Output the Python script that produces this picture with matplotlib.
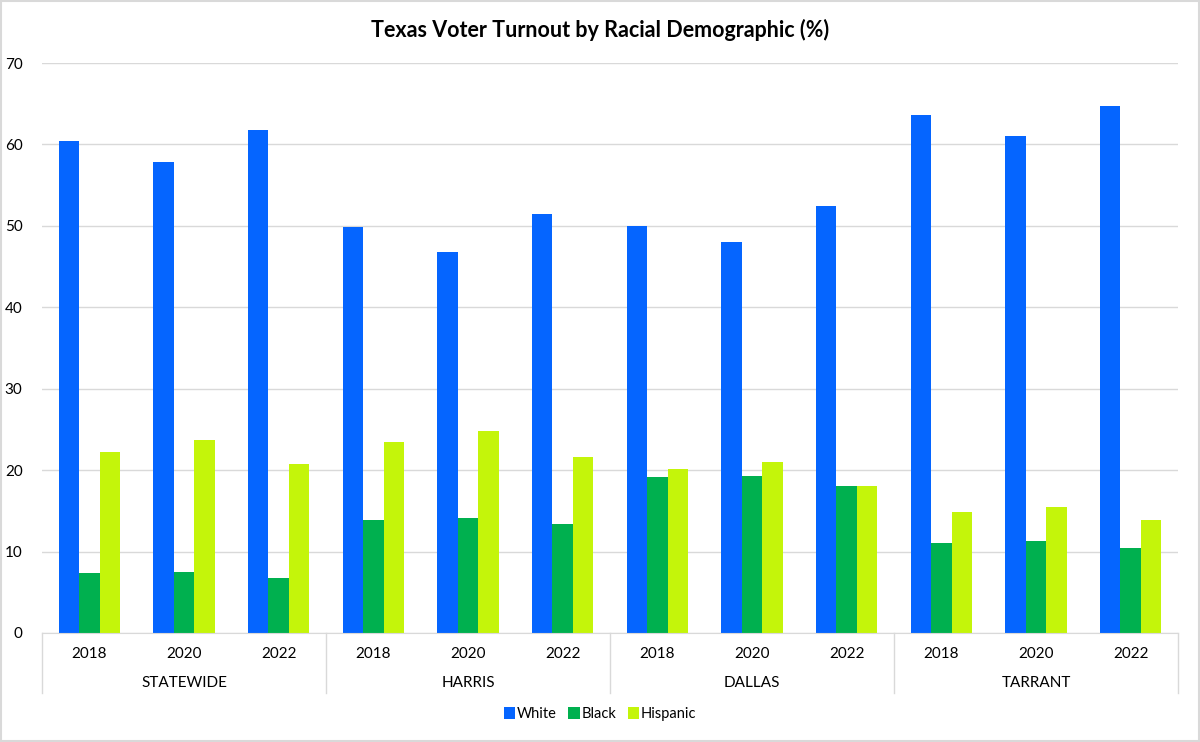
import numpy as np
import matplotlib.pyplot as plt
from matplotlib.patches import Rectangle

plt.rcParams['font.family'] = ['Lato', 'DejaVu Sans']

regions = ['STATEWIDE', 'HARRIS', 'DALLAS', 'TARRANT']
years = ['2018', '2020', '2022']

white = [60.4, 57.8, 61.8, 49.8, 46.8, 51.5, 50.0, 48.0, 52.5, 63.6, 61.0, 64.7]
black = [7.4, 7.5, 6.8, 13.9, 14.1, 13.4, 19.1, 19.3, 18.05, 11.1, 11.3, 10.4]
hispanic = [22.2, 23.7, 20.8, 23.5, 24.8, 21.6, 20.1, 21.0, 18.0, 14.9, 15.5, 13.9]

colors = ['#0565FF', '#00B04F', '#C4F50A']

fig = plt.figure(figsize=(12, 7.42), dpi=100)
ax = fig.add_axes([42/1200, 1 - 633/742, 1136/1200, 570/742])

n = len(white)
x = np.arange(n)
w = 0.215
ax.bar(x - w, white, w, color=colors[0], label='White')
ax.bar(x, black, w, color=colors[1], label='Black')
ax.bar(x + w, hispanic, w, color=colors[2], label='Hispanic')

ax.set_xlim(-0.5, n - 0.5)
ax.set_ylim(0, 70)
ax.set_yticks(range(0, 71, 10))
ax.yaxis.grid(True, color='#D9D9D9', linewidth=1)
ax.set_axisbelow(True)
for s in ['top', 'right', 'left']:
    ax.spines[s].set_visible(False)
ax.spines['bottom'].set_color('#D9D9D9')
ax.tick_params(axis='y', length=0, labelsize=11, pad=14)
ax.tick_params(axis='x', length=0)
ax.set_xticks([])

# two-level category axis
trans = ax.get_xaxis_transform()
for i in range(n):
    ax.text(i, -0.036, years[i % 3], transform=trans, ha='center', va='center', fontsize=11)
for g, name in enumerate(regions):
    ax.text(g * 3 + 1, -0.088, name, transform=trans, ha='center', va='center', fontsize=11)
for g in range(len(regions) + 1):
    ax.plot([g * 3 - 0.5, g * 3 - 0.5], [0, -0.105], transform=trans, color='#D9D9D9',
            linewidth=1, clip_on=False)

fig.text(0.5, 1 - 30/742, 'Texas Voter Turnout by Racial Demographic (%)', ha='center', va='center',
         fontsize=15.5, fontweight='bold')

fig.legend(loc='center', bbox_to_anchor=(0.5, 1 - 714/742), ncol=3, frameon=False, fontsize=10.5,
           handlelength=0.8, handleheight=0.8, handletextpad=0.1, columnspacing=0.8)

fig.patches.append(Rectangle((0.001, 0.001), 0.998, 0.998, transform=fig.transFigure,
                             fill=False, edgecolor='#D9D9D9', linewidth=1.5))

fig.savefig('out.png', dpi=100)
